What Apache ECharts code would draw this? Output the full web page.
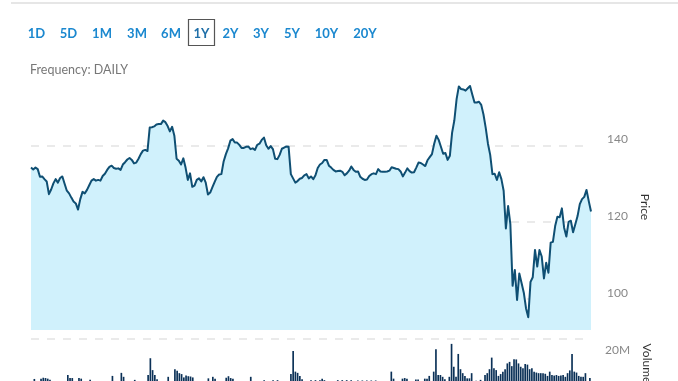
<!DOCTYPE html>
<html>
<head>
<meta charset="utf-8">
<script src="https://cdn.jsdelivr.net/npm/echarts@6/dist/echarts.min.js"></script>
<style>
html,body{margin:0;padding:0;background:#fff;}
#chart{width:678px;height:381px;}
</style>
</head>
<body>
<div id="chart"></div>
<script>
// ---- data ----
const rangeButtons = ['1D','5D','1M','3M','6M','1Y','2Y','3Y','5Y','10Y','20Y'];
const selectedRange = '1Y';
const frequencyLabel = 'Frequency: DAILY';
const priceAxisName = 'Price';
const volumeAxisName = 'Volume';
const priceTicks = [100, 120, 140];
const volumeTicks = [20];

const priceValues = [
134.2,133.7,134.2,133.8,131.8,131.9,131.2,130.6,127.3,128.5,
130.1,131.2,130.3,131.5,131.9,130.0,128.2,127.5,126.4,125.4,
124.9,123.3,126.0,127.9,127.5,128.4,129.6,130.8,131.2,130.8,
131.0,130.8,132.0,132.6,133.6,134.4,134.7,134.1,133.9,134.0,
133.6,135.0,135.6,136.3,136.7,136.2,135.3,135.5,136.5,137.7,
138.6,138.8,138.5,144.6,144.7,144.9,145.4,145.5,145.5,146.4,
146.0,145.0,143.6,144.8,142.5,136.5,136.0,135.0,136.6,134.2,
131.0,132.7,129.2,129.5,131.0,131.4,130.6,131.7,130.3,127.2,
127.7,129.1,130.5,131.8,132.4,132.5,135.8,137.7,139.2,141.2,
141.6,140.7,140.7,140.1,139.3,139.3,139.6,139.7,139.0,139.2,
138.8,140.1,140.4,141.4,142.0,140.0,139.1,139.8,139.0,136.5,
136.4,137.5,139.1,139.4,139.7,139.6,132.5,131.4,130.3,130.7,
131.3,131.5,132.2,132.5,131.4,131.9,131.2,132.2,134.1,135.0,
135.4,136.2,136.2,134.7,134.2,133.6,133.2,133.3,133.4,133.1,
132.2,132.7,133.4,134.5,133.6,133.1,133.2,131.8,131.3,131.0,
131.1,132.0,132.5,132.7,132.5,133.8,133.2,133.1,133.1,133.2,
133.4,134.3,134.1,133.9,133.8,133.2,131.9,132.9,134.0,133.3,
132.9,133.0,134.2,135.5,135.4,135.0,134.6,136.1,136.9,137.7,
140.4,142.5,141.4,139.6,137.8,138.0,136.2,137.3,143.3,146.5,
152.0,155.3,154.6,154.5,154.2,154.8,155.4,153.2,151.1,151.1,
151.3,150.5,148.0,144.5,140.4,137.5,132.5,132.6,131.0,133.0,
131.2,128.2,118.4,124.2,119.5,103.5,107.6,99.8,106.7,104.2,
101.7,97.6,95.3,104.5,105.7,112.8,108.5,112.8,111.1,105.4,
109.5,106.9,114.7,114.9,119.0,121.4,121.3,123.6,118.6,116.3,
120.1,120.4,117.4,119.5,121.6,124.7,126.0,126.6,128.4,125.5,122.8
];

// volume in millions
const volumeValues = [
5.2,6.9,5.5,5.0,7.0,7.3,7.2,7.0,6.6,5.4,
4.8,5.1,5.6,4.9,5.3,5.0,8.2,7.2,7.2,5.5,
5.0,7.2,7.0,5.3,4.7,5.6,6.6,5.2,4.9,5.4,
5.0,4.6,5.3,5.8,5.1,5.5,7.9,5.2,4.8,5.6,
8.9,7.6,5.4,5.0,5.7,5.2,6.6,5.1,4.9,5.3,
5.8,5.5,8.2,13.7,9.8,8.2,6.8,5.6,5.2,5.0,
5.7,7.6,5.5,5.9,10.1,9.6,8.8,8.5,7.4,8.0,
7.8,7.7,7.4,5.6,5.2,5.0,5.5,5.9,5.3,7.1,
5.6,7.6,7.0,5.2,4.9,5.4,5.1,7.3,7.8,7.2,
7.0,5.3,5.0,4.8,5.5,5.2,4.9,5.6,7.6,5.4,
5.0,4.7,5.2,5.5,6.5,5.1,5.0,5.4,6.5,5.2,
6.5,5.0,4.8,5.3,5.6,5.9,8.5,16.1,9.3,8.9,
7.9,6.8,5.8,5.3,5.5,6.5,5.0,6.5,5.2,6.5,
7.0,6.5,5.4,5.0,5.3,5.6,5.1,6.5,5.2,6.5,
5.0,6.5,5.4,6.5,5.1,5.3,6.4,5.5,6.4,5.0,
6.4,5.2,6.4,5.6,6.4,5.3,5.0,5.5,5.2,5.8,
5.6,9.3,7.0,5.4,5.1,5.8,7.0,7.2,7.0,5.5,
5.3,5.6,6.7,6.7,5.4,5.9,7.0,7.0,7.9,5.9,
9.3,16.6,8.2,8.2,7.6,6.8,5.8,7.6,18.4,10.9,
7.6,15.1,10.1,8.8,7.9,7.1,7.1,8.8,5.9,6.3,
5.8,6.6,6.0,8.2,8.8,10.1,13.9,10.4,9.8,7.9,
8.5,9.3,10.1,12.0,12.5,11.1,13.4,13.3,12.0,10.9,
10.4,11.8,11.6,10.1,10.4,9.3,9.0,8.8,8.8,8.8,
8.6,7.9,9.3,8.2,8.0,8.2,7.9,8.0,8.2,7.6,
8.8,9.7,15.1,9.3,9.0,7.9,7.6,7.6,8.8,6.0,7.2
];

// trading-day categories (weekdays)
const categories = [];
(function(){
  const d = new Date(Date.UTC(2019, 5, 3));
  while (categories.length < priceValues.length) {
    const wd = d.getUTCDay();
    if (wd !== 0 && wd !== 6) categories.push(d.toISOString().slice(0,10));
    d.setUTCDate(d.getUTCDate() + 1);
  }
})();

// ---- layout ----
const buttonX = [36.5, 68.5, 102, 137, 171, 201.5, 230.5, 261, 292, 326.5, 365];
const FONT = 'Lato, "Open Sans", sans-serif';

const graphics = [
  { type: 'rect', left: 11, top: 2, shape: { width: 667, height: 2 }, style: { fill: '#e6e6e6' }, silent: true }
];
rangeButtons.forEach((b, i) => {
  if (b === selectedRange) {
    graphics.push({ type: 'rect', shape: { x: 188.5, y: 19.5, width: 26, height: 26 },
      style: { fill: 'none', stroke: '#555', lineWidth: 1.2 }, silent: true });
  }
  graphics.push({ type: 'text', x: buttonX[i], y: 34,
    style: { text: b, fill: b === selectedRange ? '#1f6fa8' : '#1b88cf', font: 'bold 13px ' + FONT,
      align: 'center', verticalAlign: 'middle' }, silent: true });
});
graphics.push({ type: 'text', x: 30, y: 70,
  style: { text: frequencyLabel, fill: '#777', font: '12.5px ' + FONT, align: 'left', verticalAlign: 'middle' }, silent: true });

const chart = echarts.init(document.getElementById('chart'), null, { renderer: 'canvas' });
chart.setOption({
  animation: false,
  backgroundColor: '#fff',
  graphic: graphics,
  grid: [
    { left: 31, right: 87, top: 76, height: 254, outerBoundsMode: 'none', containLabel: false },
    { left: 31, right: 87, top: 339, height: 61, outerBoundsMode: 'none', containLabel: false }
  ],
  xAxis: [
    { type: 'category', gridIndex: 0, data: categories, boundaryGap: false, show: false },
    { type: 'category', gridIndex: 1, data: categories, boundaryGap: true, show: false }
  ],
  yAxis: [
    {
      type: 'value', gridIndex: 0, position: 'right', min: 92, max: 158,
      name: priceAxisName, nameLocation: 'middle', nameRotate: -90, nameGap: 45,
      nameTextStyle: { color: '#333', fontSize: 12, fontFamily: FONT, padding: [0, 0, 0, 8] },
      axisLine: { show: false },
      axisTick: { show: false, customValues: priceTicks },
      axisLabel: { customValues: priceTicks, color: '#888', fontSize: 12, fontFamily: FONT,
        margin: 16, verticalAlign: 'bottom' },
      splitLine: { show: true, lineStyle: { color: '#e3e3e3', width: 1.5, type: [8, 8] } }
    },
    {
      type: 'value', gridIndex: 1, position: 'right', min: 0, max: 20,
      name: volumeAxisName, nameLocation: 'middle', nameRotate: -90, nameGap: 46,
      nameTextStyle: { color: '#333', fontSize: 12, fontFamily: FONT, padding: [0, 12, 0, 0] },
      axisLine: { show: false },
      axisTick: { show: false, customValues: volumeTicks },
      axisLabel: { customValues: volumeTicks, color: '#888', fontSize: 12, fontFamily: FONT,
        margin: 14, verticalAlign: 'top', padding: [5, 0, 0, 0], formatter: v => v + 'M' },
      splitLine: { show: true, lineStyle: { color: '#e3e3e3', width: 1.5, type: [8, 8] } }
    }
  ],
  series: [
    {
      type: 'line', xAxisIndex: 0, yAxisIndex: 0, data: priceValues,
      showSymbol: false, symbol: 'none', smooth: false,
      lineStyle: { color: '#0f4f73', width: 2, join: 'round' },
      areaStyle: { color: '#d0f1fc', opacity: 1 },
      z: 3
    },
    {
      type: 'bar', xAxisIndex: 1, yAxisIndex: 1, data: volumeValues,
      itemStyle: { color: '#0b3157' }, barCategoryGap: '25%'
    }
  ]
});
</script>
</body>
</html>
